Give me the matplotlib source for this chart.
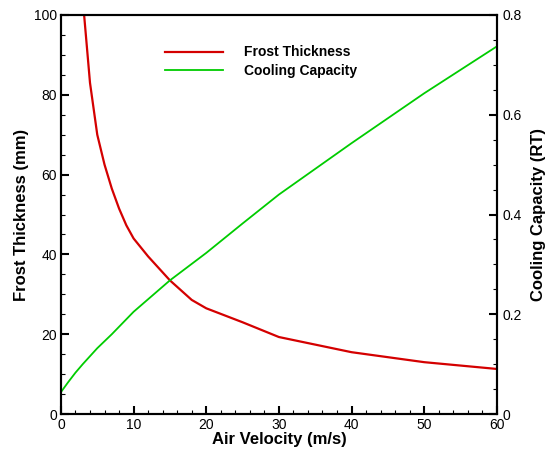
import numpy as np
import matplotlib.pyplot as plt
from matplotlib.ticker import MultipleLocator

plt.rcParams["font.family"] = ["Liberation Sans", "DejaVu Sans"]

# frost thickness (mm) vs air velocity (m/s)
frost_v = [3, 4, 5, 6, 7, 8, 9, 10, 12, 15, 18, 20, 25, 30, 40, 50, 60]
frost_mm = [104, 83, 70, 62.5, 56.5, 51.5, 47.3, 44, 39.5, 33.5, 28.6, 26.5, 23.0, 19.3, 15.5, 13.0, 11.3]

# cooling capacity (RT) vs air velocity (m/s)
cool_v = [0, 1, 2, 3, 5, 7, 10, 15, 20, 25, 30, 40, 50, 60]
cool_rt = [0.044, 0.064, 0.083, 0.100, 0.132, 0.160, 0.205, 0.268, 0.323, 0.382, 0.440, 0.543, 0.643, 0.737]

fig = plt.figure(figsize=(5.49, 4.54), dpi=100)
ax = fig.add_axes([0.111, 0.088, 0.794, 0.879])
ax2 = ax.twinx()

l1, = ax.plot(frost_v, frost_mm, color="#d40000", lw=1.6, label="Frost Thickness")
l2, = ax2.plot(cool_v, cool_rt, color="#00cc00", lw=1.3, label="Cooling Capacity")

ax.set_xlim(0, 60)
ax.set_ylim(0, 100)
ax2.set_ylim(0, 0.8)

ax.xaxis.set_major_locator(MultipleLocator(10))
ax.xaxis.set_minor_locator(MultipleLocator(2))
ax.yaxis.set_major_locator(MultipleLocator(20))
ax.yaxis.set_minor_locator(MultipleLocator(5))
ax2.yaxis.set_major_locator(MultipleLocator(0.2))
ax2.yaxis.set_minor_locator(MultipleLocator(0.05))
ax2.set_yticks([0, 0.2, 0.4, 0.6, 0.8])
ax2.set_yticklabels(["0", "0.2", "0.4", "0.6", "0.8"])

for a in (ax, ax2):
    a.tick_params(which="major", direction="in", length=6, width=1.5, labelsize=10, pad=3)
    a.tick_params(which="minor", direction="in", length=3, width=0.8)
    for s in a.spines.values():
        s.set_linewidth(1.5)
ax.tick_params(top=False, which="both")
ax2.tick_params(axis="y", pad=4)

ax.set_xlabel("Air Velocity (m/s)", fontsize=12, fontweight="bold", labelpad=0)
ax.set_ylabel("Frost Thickness (mm)", fontsize=12, fontweight="bold", labelpad=3)
ax2.set_ylabel("Cooling Capacity (RT)", fontsize=12, fontweight="bold", labelpad=7)

leg = ax.legend(handles=[l1, l2], loc="upper left", bbox_to_anchor=(0.21, 0.955),
                frameon=False, handlelength=4.2, handletextpad=1.5, labelspacing=0.3,
                prop={"weight": "bold", "size": 10})

fig.savefig("out.png", dpi=100)
